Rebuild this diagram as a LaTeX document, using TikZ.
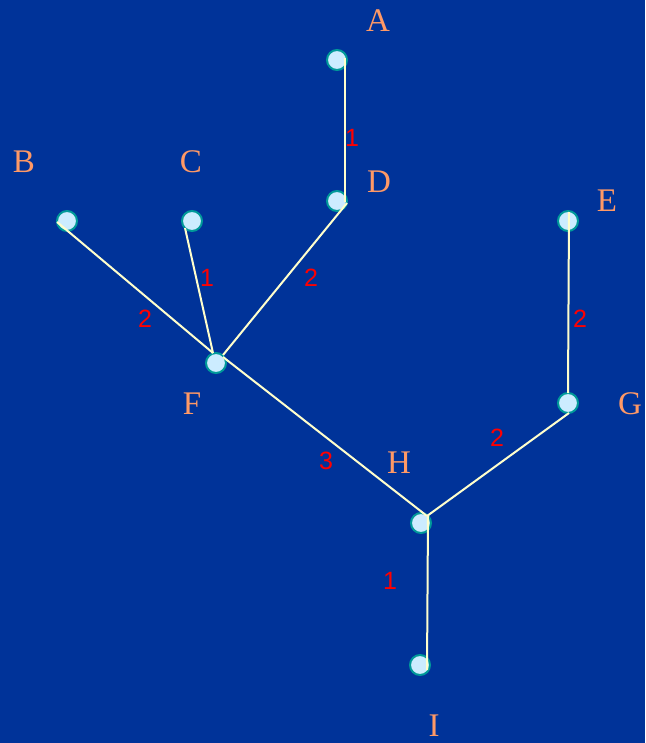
\documentclass[tikz,border=0pt]{standalone}
\usepackage{fontspec}
\setmainfont{Liberation Serif}
\newfontfamily\numfont{Liberation Sans}
\usetikzlibrary{calc}
\definecolor{bgblue}{HTML}{003399}
\definecolor{lettercol}{HTML}{FF9966}
\definecolor{weightcol}{HTML}{FF0000}
\definecolor{edgecol}{HTML}{FFFFCC}
\definecolor{vfill}{HTML}{CCECFF}
\definecolor{vdraw}{HTML}{009999}
\tikzset{
  vertex/.style={circle, fill=vfill, draw=vdraw, line width=2pt, minimum size=20pt, inner sep=0pt},
  letter/.style={text=lettercol, font=\fontsize{33}{33}\selectfont, inner sep=0pt},
  weight/.style={text=weightcol, font=\numfont\fontsize{25}{25}\selectfont, inner sep=0pt},
  edge/.style={draw=edgecol, line width=2pt},
}
\begin{document}
\begin{tikzpicture}[x=1pt, y=-1pt]
  \fill[bgblue] (0,0) rectangle (645,743);
  \useasboundingbox (0,0) rectangle (645,743);

  % vertices
  \node[vertex] (A) at (337,60) {};
  \node[vertex] (B) at (67,221) {};
  \node[vertex] (C) at (192,221) {};
  \node[vertex] (D) at (337,201) {};
  \node[vertex] (E) at (568,221) {};
  \node[vertex] (F) at (216,363) {};
  \node[vertex] (G) at (568,403) {};
  \node[vertex] (H) at (421,523) {};
  \node[vertex] (I) at (420,665) {};

  % vertex names
  \node[letter] (lA) at (378,21) {A};
  \node[letter] (lB) at (24,162) {B};
  \node[letter] (lC) at (191,162) {C};
  \node[letter] (lD) at (379,182) {D};
  \node[letter] (lE) at (607,201) {E};
  \node[letter] (lF) at (192,404) {F};
  \node[letter] (lG) at (630,404) {G};
  \node[letter] (lH) at (399,463) {H};
  \node[letter] (lI) at (434,726) {I};

  % edges
  \draw[edge] ($(A)+(8,-2)$) -- ($(D)+(8,1)$);
  \draw[edge] ($(D)+(10,2)$) -- ($(F)+(7,-8)$);
  \draw[edge] ($(B)+(-10,1)$) -- ($(F)+(-3,-10)$);
  \draw[edge] ($(C)+(-7,7)$) -- ($(F)+(-3,-10)$);
  \draw[edge] ($(F)+(7,-6)$) -- ($(H)+(6,-7)$);
  \draw[edge] ($(H)+(7,-7)$) -- ($(I)+(7,5)$);
  \draw[edge] ($(E)+(1,-9)$) -- ($(G)+(0,-10)$);
  \draw[edge] ($(G)+(1,10)$) -- ($(H)+(6,-7)$);

  % edge weights
  \node[weight] (wAD) at (352,138) {1};
  \node[weight] (wCF) at (207,278) {1};
  \node[weight] (wDF) at (311,278) {2};
  \node[weight] (wBF) at (145,319) {2};
  \node[weight] (wEG) at (580,319) {2};
  \node[weight] (wFH) at (326,461) {3};
  \node[weight] (wGH) at (497,438) {2};
  \node[weight] (wHI) at (390,581) {1};
\end{tikzpicture}
\end{document}
